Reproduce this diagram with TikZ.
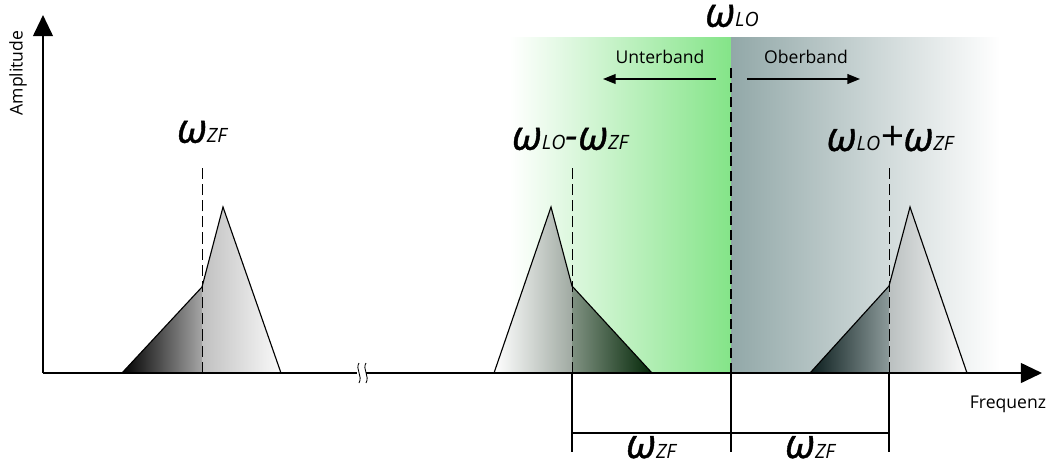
\documentclass[tikz,border=0pt]{standalone}
\usepackage{fontspec}
\setmainfont{Open Sans}
\usepackage{tikz}
\usetikzlibrary{arrows.meta, positioning, calc}
\definecolor{lowgreen}{RGB}{132,228,136}
\definecolor{hiteal}{RGB}{146,168,168}
\definecolor{deepgreen}{RGB}{4,40,8}
\definecolor{deepteal}{RGB}{12,30,30}
\definecolor{lgray}{RGB}{165,165,165}
\definecolor{rgray}{RGB}{192,192,192}
\definecolor{paleend}{RGB}{250,250,250}
\definecolor{midgreen}{RGB}{160,170,162}
\definecolor{darkgreengray}{RGB}{128,146,130}
\definecolor{midteal}{RGB}{140,154,154}
\definecolor{lightteal}{RGB}{186,192,192}
\tikzset{
  axis/.style={line width=1.5pt, -{Triangle[length=15pt, width=14pt]}},
  peak/.style={line width=0.8pt, draw=black},
  centerline/.style={line width=0.7pt, dash pattern=on 8pt off 3.5pt},
  loline/.style={line width=1.8pt, dash pattern=on 7pt off 3.5pt},
  bandarrow/.style={line width=1pt, -{Triangle[length=9pt, width=7pt]}},
  dimline/.style={line width=0.8pt},
  freqlabel/.style={inner sep=1pt, font=\fontsize{29}{29}\selectfont\itshape},
  axislabel/.style={inner sep=1pt, font=\fontsize{12.5}{12.5}\selectfont},
  bandlabel/.style={inner sep=1pt, font=\fontsize{12.5}{12.5}\selectfont}
}
\newcommand{\omsub}[1]{{\addfontfeature{FakeBold=1}ω}{\fontsize{14}{14}\selectfont #1}}

\begin{document}
\begin{tikzpicture}[x=0.025cm, y=-0.025cm]
  \useasboundingbox (0,0) rectangle (1050,468);
  % ── Sideband backgrounds ───────────────────────────────────────────────
  \shade[left color=white, right color=lowgreen] (510,37) rectangle (731,373);
  \shade[left color=hiteal, right color=white] (731,37) rectangle (1000,373);

  % ── Spectral peaks ─────────────────────────────────────────────────────
  % left peak (ZF)
  \shade[left color=black, right color=lgray] (122,373) -- (202,287) -- (202,373) -- cycle;
  \shade[left color=rgray, right color=paleend] (202,373) -- (202,287) -- (223,207) -- (281,373) -- cycle;
  \draw[peak] (122,373) -- (202,287) -- (223,207) -- (281,373);
  % lower sideband
  \shade[left color=white, middle color=white!88!black, right color=midgreen]
    (494,373) -- (551,207) -- (572,286) -- (572,373) -- cycle;
  \shade[left color=darkgreengray, right color=deepgreen] (572,373) -- (572,286) -- (652,373) -- cycle;
  \draw[peak] (494,373) -- (551,207) -- (572,286) -- (652,373);
  % upper sideband
  \shade[left color=deepteal, right color=midteal] (810,373) -- (889,286) -- (889,373) -- cycle;
  \shade[left color=lightteal, right color=paleend] (889,373) -- (889,286) -- (910,207) -- (967,373) -- cycle;
  \draw[peak] (810,373) -- (889,286) -- (910,207) -- (967,373);

  % ── Frequency marks ────────────────────────────────────────────────────
  \coordinate (zf) at (202,373);
  \coordinate (usb) at (572,373);
  \coordinate (lo) at (731,373);
  \coordinate (osb) at (889,373);
  \node[freqlabel] (lzf) at (202,132) {\omsub{ZF}};
  \node[freqlabel] (lusb) at (570,139) {\omsub{LO}-\omsub{ZF}};
  \node[freqlabel] (losb) at (890,139) {\omsub{LO}+\omsub{ZF}};
  \node[freqlabel] (llo) at (732,16) {\omsub{LO}};
  \draw[centerline] (zf) -- ++(0,-205);
  \draw[centerline] (usb) -- ++(0,-205);
  \draw[centerline] (osb) -- ++(0,-205);
  \draw[loline] (lo) -- ++(0,-310);

  % ── Band arrows ────────────────────────────────────────────────────────
  \coordinate (ustart) at (716,79);
  \coordinate (uend) at (603,79);
  \coordinate (ostart) at (747,79);
  \coordinate (oend) at (860,79);
  \draw[bandarrow] (ustart) -- (uend);
  \draw[bandarrow] (ostart) -- (oend);
  \node[bandlabel] (unter) at (660,57) {Unterband};
  \node[bandlabel] (ober) at (806,57) {Oberband};

  % ── Axes ───────────────────────────────────────────────────────────────
  \coordinate (o) at (43,373);
  \coordinate (ytip) at (43,15);
  \coordinate (xtip) at (1042,373);
  \draw[axis] (o) -- (ytip);
  \draw[axis] (o) -- (xtip);
  \node[axislabel, rotate=90] (amp) at (18,73) {Amplitude};
  \node[axislabel] (freq) at (1008,404) {Frequenz};
  % axis break
  \fill[white] (357,366) rectangle (366,380);
  \draw[line width=0.6pt] (359,363) .. controls (355,369) and (363,376) .. (359,383);
  \draw[line width=0.6pt] (366,363) .. controls (362,369) and (370,376) .. (366,383);

  % ── Offset dimensions ──────────────────────────────────────────────────
  \draw[dimline] (usb) -- ++(0,79);
  \draw[dimline] (lo) -- ++(0,79);
  \draw[dimline] (osb) -- ++(0,79);
  \draw[dimline] ($(usb)+(0,60)$) -- ($(osb)+(0,60)$);
  \node[freqlabel, inner sep=0pt, anchor=base] (dlow) at (651,458) {\omsub{ZF}};
  \node[freqlabel, inner sep=0pt, anchor=base] (dhigh) at (810,458) {\omsub{ZF}};
\end{tikzpicture}
\end{document}
